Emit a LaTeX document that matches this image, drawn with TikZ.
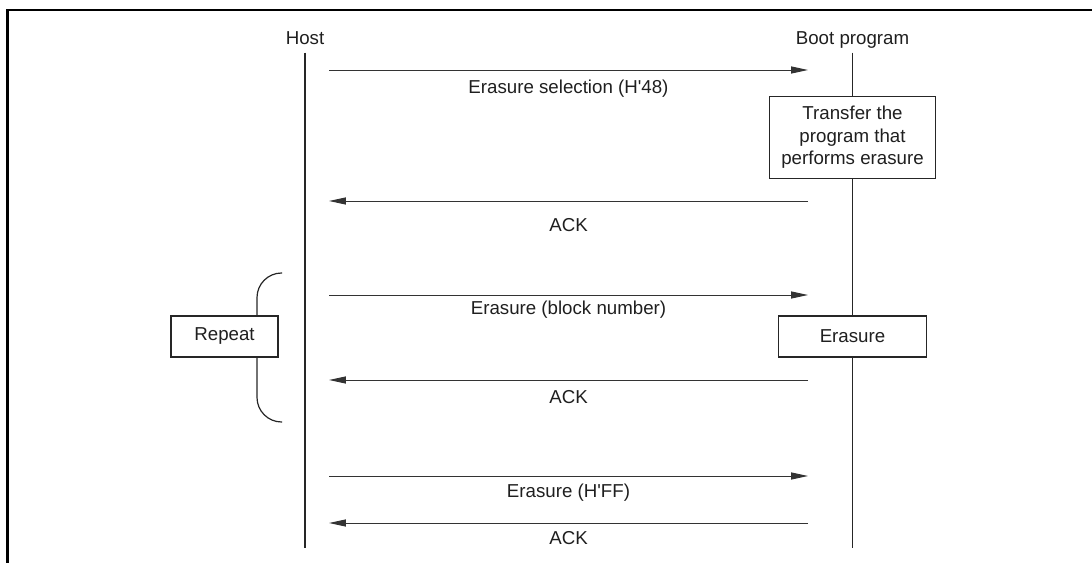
\documentclass[tikz,border=0pt]{standalone}
\usepackage{fontspec}
\setmainfont{Liberation Sans}
\usetikzlibrary{arrows.meta, positioning}

\begin{document}
\begin{tikzpicture}[
    x=0.025cm, y=-0.025cm,
    >={Triangle[length=12pt, width=5pt]},
    font=\fontsize{13.3pt}{16pt}\selectfont,
    every node/.style={text=black!88},
    headlabel/.style={anchor=base, inner sep=0pt, text depth=0pt, outer sep=5.5pt},
    lifeline/.style={line width=0.85pt, black!85},
    msg/.style={->, line width=0.7pt, black!80},
    msglabel/.style={anchor=base, midway},
    procbox/.style={draw=black!85, line width=0.9pt, fill=white, align=center, inner sep=2pt},
    framebox/.style={line width=1.6pt},
  ]
  \useasboundingbox (0,0) rectangle (1092,563);

  % Frame
  \draw[framebox] (1092,10) -- (7.5,10) -- (7.5,563);

  % Lifelines
  \node[headlabel] (host) at (305,45) {Host};
  \node[headlabel] (boot) at (852.5,45) {Boot program};
  \coordinate (hostend) at (305,548);
  \coordinate (bootend) at (852.5,548);
  \draw[lifeline] (host.south) -- (hostend);
  \draw[lifeline] (boot.south) -- (bootend);

  % --- Erasure selection ---
  \coordinate (h1) at (329,70);
  \coordinate (b1) at (808,70);
  \draw[msg] (h1) -- (b1) node[msglabel, yshift=-16.4pt] {Erasure selection (H\textquotesingle48)};

  \node[procbox, minimum width=4.15cm, minimum height=2.05cm] (transfer) at (852.5,137.5) {Transfer the\\program that\\performs erasure};

  \coordinate (b2) at (808,201);
  \coordinate (h2) at (329,201);
  \draw[msg] (b2) -- (h2) node[msglabel, yshift=-22pt] {ACK};

  % --- Repeat loop ---
  \coordinate (bracetop) at (282,273);
  \coordinate (bracebot) at (282,422);
  \draw[lifeline, rounded corners=17.5pt] (bracetop) -| (257,336) |- (bracebot);
  \node[procbox, minimum width=2.675cm, minimum height=1.025cm] (repeat) at (224.5,336.5) {Repeat};

  \coordinate (h3) at (329,295);
  \coordinate (b3) at (808,295);
  \draw[msg] (h3) -- (b3) node[msglabel, yshift=-14.2pt] {Erasure (block number)};

  \node[procbox, minimum width=3.7cm, minimum height=1.025cm] (erase) at (852.5,336.5) {Erasure};

  \coordinate (b4) at (808,380);
  \coordinate (h4) at (329,380);
  \draw[msg] (b4) -- (h4) node[msglabel, yshift=-16.4pt] {ACK};

  % --- End of erasure ---
  \coordinate (h5) at (329,476);
  \coordinate (b5) at (808,476);
  \draw[msg] (h5) -- (b5) node[msglabel, yshift=-15.6pt] {Erasure (H\textquotesingle FF)};

  \coordinate (b6) at (808,523);
  \coordinate (h6) at (329,523);
  \draw[msg] (b6) -- (h6) node[msglabel, yshift=-15.6pt] {ACK};

\end{tikzpicture}
\end{document}
